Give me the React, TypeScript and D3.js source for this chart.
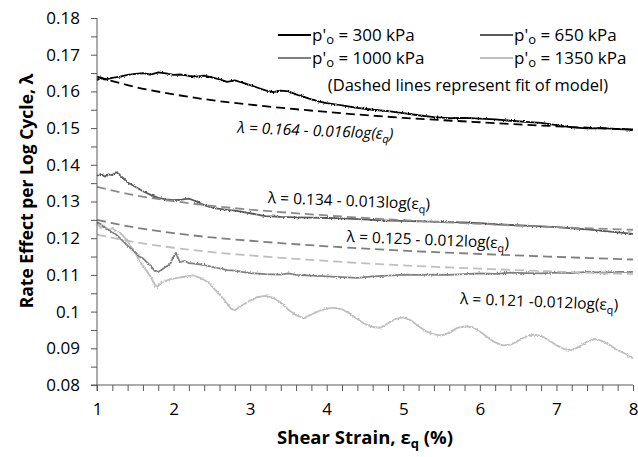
import React, { useEffect, useRef } from 'react';
import * as d3 from 'd3';

// strain (%) sample points
const x300 = [1.0, 1.05, 1.1, 1.2, 1.3, 1.4, 1.5, 1.6, 1.7, 1.8, 1.9, 2.0, 2.1, 2.2, 2.3, 2.4, 2.5, 2.6, 2.7, 2.8, 2.9, 3.0, 3.1, 3.2, 3.3, 3.4, 3.5, 3.6, 3.7, 3.8, 3.9, 4.0, 4.2, 4.4, 4.6, 4.8, 5.0, 5.2, 5.4, 5.6, 5.8, 6.0, 6.2, 6.4, 6.6, 6.8, 7.0, 7.2, 7.4, 7.6, 7.8, 8.0];
const y300 = [0.1630, 0.1638, 0.1632, 0.1637, 0.1640, 0.1645, 0.1648, 0.1650, 0.1646, 0.1652, 0.1649, 0.1645, 0.1646, 0.1642, 0.1640, 0.1643, 0.1638, 0.1633, 0.1626, 0.1630, 0.1624, 0.1617, 0.1610, 0.1603, 0.1598, 0.1602, 0.1600, 0.1592, 0.1585, 0.1578, 0.1572, 0.1568, 0.1562, 0.1555, 0.1550, 0.1546, 0.1541, 0.1535, 0.1530, 0.1527, 0.1528, 0.1526, 0.1524, 0.1520, 0.1517, 0.1514, 0.1508, 0.1502, 0.1499, 0.1500, 0.1497, 0.1496];

const x650 = [1.0, 1.05, 1.1, 1.15, 1.2, 1.25, 1.3, 1.35, 1.4, 1.5, 1.6, 1.7, 1.8, 1.9, 2.0, 2.1, 2.2, 2.3, 2.4, 2.5, 2.6, 2.7, 2.8, 2.9, 3.0, 3.2, 3.4, 3.6, 3.8, 4.0, 4.2, 4.4, 4.6, 4.8, 5.0, 5.2, 5.4, 5.6, 5.8, 6.0, 6.2, 6.4, 6.6, 6.8, 7.0, 7.2, 7.4, 7.6, 7.8, 8.0];
const y650 = [0.1370, 0.1375, 0.1368, 0.1374, 0.1372, 0.1380, 0.1372, 0.1362, 0.1352, 0.1340, 0.1328, 0.1318, 0.1310, 0.1306, 0.1304, 0.1305, 0.1308, 0.1300, 0.1290, 0.1283, 0.1280, 0.1277, 0.1275, 0.1272, 0.1268, 0.1260, 0.1258, 0.1257, 0.1256, 0.1255, 0.1254, 0.1252, 0.1250, 0.1248, 0.1247, 0.1246, 0.1245, 0.1244, 0.1243, 0.1241, 0.1238, 0.1236, 0.1234, 0.1232, 0.1230, 0.1227, 0.1224, 0.1220, 0.1216, 0.1212];

const x1000 = [1.0, 1.05, 1.1, 1.15, 1.2, 1.25, 1.3, 1.35, 1.4, 1.45, 1.5, 1.55, 1.6, 1.65, 1.7, 1.75, 1.8, 1.85, 1.9, 1.95, 2.0, 2.03, 2.08, 2.15, 2.2, 2.3, 2.4, 2.5, 2.6, 2.7, 2.8, 2.9, 3.0, 3.2, 3.4, 3.5, 3.6, 3.8, 4.0, 4.2, 4.4, 4.6, 4.8, 5.0, 5.2, 5.4, 5.6, 5.8, 6.0, 6.2, 6.4, 6.6, 6.8, 7.0, 7.2, 7.4, 7.6, 7.8, 8.0];
const y1000 = [0.1244, 0.1238, 0.1228, 0.1222, 0.1216, 0.1210, 0.1200, 0.1190, 0.1180, 0.1170, 0.1162, 0.1150, 0.1145, 0.1135, 0.1125, 0.1112, 0.1108, 0.1115, 0.1122, 0.1128, 0.1150, 0.1160, 0.1135, 0.1138, 0.1132, 0.1130, 0.1127, 0.1122, 0.1118, 0.1113, 0.1112, 0.1108, 0.1105, 0.1102, 0.1101, 0.1104, 0.1100, 0.1098, 0.1096, 0.1094, 0.1092, 0.1096, 0.1098, 0.1101, 0.1100, 0.1101, 0.1100, 0.1102, 0.1104, 0.1103, 0.1106, 0.1105, 0.1104, 0.1106, 0.1105, 0.1108, 0.1106, 0.1108, 0.1108];

const x1350 = [1.0, 1.05, 1.1, 1.15, 1.2, 1.25, 1.3, 1.35, 1.4, 1.45, 1.5, 1.55, 1.6, 1.65, 1.7, 1.75, 1.78, 1.85, 1.95, 2.05, 2.15, 2.25, 2.35, 2.45, 2.55, 2.65, 2.75, 2.8, 2.9, 3.0, 3.1, 3.2, 3.3, 3.4, 3.5, 3.6, 3.7, 3.8, 3.9, 4.0, 4.1, 4.2, 4.3, 4.4, 4.5, 4.6, 4.7, 4.8, 4.9, 5.0, 5.1, 5.2, 5.3, 5.4, 5.5, 5.6, 5.7, 5.8, 5.9, 6.0, 6.1, 6.2, 6.3, 6.4, 6.5, 6.6, 6.7, 6.8, 6.9, 7.0, 7.1, 7.2, 7.3, 7.4, 7.5, 7.6, 7.7, 7.8, 7.9, 8.0];
const y1350 = [0.1240, 0.1228, 0.1232, 0.1222, 0.1228, 0.1220, 0.1215, 0.1205, 0.1192, 0.1175, 0.1160, 0.1140, 0.1125, 0.1110, 0.1095, 0.1075, 0.1067, 0.1080, 0.1088, 0.1092, 0.1095, 0.1099, 0.1092, 0.1080, 0.1058, 0.1035, 0.1008, 0.1004, 0.1018, 0.1030, 0.1040, 0.1043, 0.1038, 0.1025, 0.1005, 0.0990, 0.0982, 0.0992, 0.1002, 0.1008, 0.1011, 0.1006, 0.0995, 0.0980, 0.0966, 0.0958, 0.0956, 0.0968, 0.0980, 0.0984, 0.0976, 0.0960, 0.0946, 0.0938, 0.0935, 0.0942, 0.0955, 0.0960, 0.0958, 0.0946, 0.0930, 0.0916, 0.0908, 0.0910, 0.0920, 0.0932, 0.0937, 0.0934, 0.0922, 0.0908, 0.0898, 0.0895, 0.0905, 0.0918, 0.0925, 0.0920, 0.0908, 0.0895, 0.0885, 0.0873];

// dashed model fits, read at these strains
const xFit = [1, 1.5, 2, 2.5, 3, 4, 5, 6, 7, 8];
const fit300 = [0.1640, 0.1612, 0.1592, 0.1576, 0.1564, 0.1544, 0.1528, 0.1516, 0.1505, 0.1496];
const fit650 = [0.1340, 0.1317, 0.1301, 0.1288, 0.1278, 0.1262, 0.1249, 0.1239, 0.1230, 0.1223];
const fit1000 = [0.1250, 0.1229, 0.1214, 0.1202, 0.1193, 0.1178, 0.1166, 0.1157, 0.1149, 0.1142];
const fit1350 = [0.1210, 0.1189, 0.1174, 0.1162, 0.1153, 0.1138, 0.1126, 0.1117, 0.1109, 0.1102];

const pressures = ['300', '650', '1000', '1350'];
const fitLabels = ['0.164 - 0.016log(', '0.134 - 0.013log(', '0.125 - 0.012log(', '0.121 -0.012log('];
// where each fit label starts (strain, lambda at baseline)
const labelAt = [[2.83, 0.1487], [3.23, 0.1296], [4.26, 0.1190], [5.74, 0.1021]];

const colors = ['#000000', '#595959', '#7f7f7f', '#bfbfbf'];
const fitColors = ['#000000', '#8c8c8c', '#7f7f7f', '#bfbfbf'];

const FONT = '"Open Sans", Lato, sans-serif';

// append "main + sub + rest" with a small dropped subscript
const subText = (t: any, main: string, sub: string, rest: string, subSize: number, drop: number) => {
  t.append('tspan').text(main);
  t.append('tspan').attr('dy', drop).style('font-size', `${subSize}px`).text(sub);
  t.append('tspan').attr('dy', -drop).text(rest);
};

const App = () => {
  const ref = useRef(null);

  useEffect(() => {
    const W = 638, H = 457;
    const svg = d3.select(ref.current);
    svg.selectAll('*').remove();
    svg.attr('width', W).attr('height', H);

    // slight jitter texture for the measured curves
    const filt = svg.append('defs').append('filter')
      .attr('id', 'jit')
      .attr('filterUnits', 'userSpaceOnUse')
      .attr('x', 0).attr('y', 0).attr('width', W).attr('height', H);
    filt.append('feTurbulence')
      .attr('type', 'fractalNoise').attr('baseFrequency', 0.7)
      .attr('numOctaves', 1).attr('seed', 4).attr('result', 'n');
    filt.append('feDisplacementMap')
      .attr('in', 'SourceGraphic').attr('in2', 'n').attr('scale', 3)
      .attr('xChannelSelector', 'R').attr('yChannelSelector', 'G');

    const x = d3.scaleLinear().domain([1, 8]).range([97, 633]);
    const y = d3.scaleLinear().domain([0.08, 0.18]).range([385, 18]);

    const series = [
      { xs: x300, ys: y300 },
      { xs: x650, ys: y650 },
      { xs: x1000, ys: y1000 },
      { xs: x1350, ys: y1350 },
    ];
    const fits = [fit300, fit650, fit1000, fit1350];

    const line = d3.line<[number, number]>().x(d => x(d[0])).y(d => y(d[1]));
    const fitLine = d3.line<[number, number]>().x(d => x(d[0])).y(d => y(d[1])).curve(d3.curveMonotoneX);

    // data lines, lightest drawn first
    const dataG = svg.append('g').attr('filter', 'url(#jit)');
    [3, 2, 1, 0].forEach(i => {
      const pts = series[i].xs.map((v, k) => [v, series[i].ys[k]] as [number, number]);
      dataG.append('path')
        .attr('d', line(pts))
        .attr('fill', 'none')
        .attr('stroke', colors[i])
        .attr('stroke-width', 1.8)
        .attr('stroke-linejoin', 'round');
    });

    // model fits
    fits.forEach((f, i) => {
      const pts = xFit.map((v, k) => [v, f[k]] as [number, number]);
      svg.append('path')
        .attr('d', fitLine(pts))
        .attr('fill', 'none')
        .attr('stroke', fitColors[i])
        .attr('stroke-width', 1.8)
        .attr('stroke-dasharray', '9 5');
    });

    // axes
    const axisColor = '#595959';
    const yAxis = d3.axisLeft(y)
      .tickValues(d3.range(0, 21).map(k => 0.08 + k * 0.005))
      .tickSize(6)
      .tickPadding(11)
      .tickFormat((d: any) => {
        const r = Math.round(d * 1000);
        return r % 10 === 0 ? String(+(+d).toFixed(2)) : '';
      });
    const gy = svg.append('g').attr('transform', 'translate(97,0)').call(yAxis);
    gy.select('.domain').attr('d', 'M0,18V391').attr('stroke', axisColor);

    const xAxis = d3.axisBottom(x)
      .tickValues(d3.range(0, 36).map(k => 1 + k * 0.2))
      .tickSize(6)
      .tickPadding(12)
      .tickFormat((d: any) => {
        const r = Math.round(d * 10);
        return r % 10 === 0 ? String(r / 10) : '';
      });
    const gx = svg.append('g').attr('transform', 'translate(0,385)').call(xAxis);
    gx.select('.domain').attr('d', 'M91,0H633').attr('stroke', axisColor);

    [gx, gy].forEach(g => {
      g.selectAll('.tick line').attr('stroke', axisColor);
      g.selectAll('.tick text')
        .attr('fill', '#000')
        .style('font-family', FONT)
        .style('font-size', '17px');
    });

    // axis titles
    const xt = svg.append('text')
      .attr('x', 365).attr('y', 444)
      .attr('text-anchor', 'middle')
      .style('font-family', FONT).style('font-size', '18.5px').style('font-weight', 'bold');
    subText(xt, 'Shear Strain, ε', 'q', ' (%)', 13, 4);

    svg.append('text')
      .attr('transform', 'translate(33,191) rotate(-90)')
      .attr('text-anchor', 'middle')
      .style('font-family', FONT).style('font-size', '17.5px').style('font-weight', 'bold')
      .text('Rate Effect per Log Cycle, λ');

    // legend
    const legend = svg.append('g');
    pressures.forEach((p, i) => {
      const col = i % 2, row = Math.floor(i / 2);
      const lx = col === 0 ? 278 : 480;
      const ly = row === 0 ? 35 : 58;
      legend.append('line')
        .attr('x1', lx).attr('x2', lx + 33).attr('y1', ly).attr('y2', ly)
        .attr('stroke', colors[i]).attr('stroke-width', 1.8);
      const t = legend.append('text')
        .attr('x', lx + 34).attr('y', ly + 6)
        .style('font-family', FONT).style('font-size', '17px');
      subText(t, "p'", 'o', ` = ${p} kPa`, 13, 3);
    });
    legend.append('text')
      .attr('x', 468).attr('y', 91)
      .attr('text-anchor', 'middle')
      .style('font-family', FONT).style('font-size', '16.5px')
      .text('(Dashed lines represent fit of model)');

    // fit equations
    fitLabels.forEach((lab, i) => {
      const [lxv, lyv] = labelAt[i];
      const t = svg.append('text')
        .attr('transform', `translate(${x(lxv)},${y(lyv)}) rotate(2.3)`)
        .style('font-family', FONT).style('font-size', '15.5px')
        .style('font-style', i === 0 ? 'italic' : 'normal');
      subText(t, `λ = ${lab}ε`, 'q', ')', 11, 4);
    });
  }, []);

  return (
    <div style={{ position: 'absolute', left: 0, top: 0 }}>
      <svg ref={ref}></svg>
    </div>
  );
};

export default App;
